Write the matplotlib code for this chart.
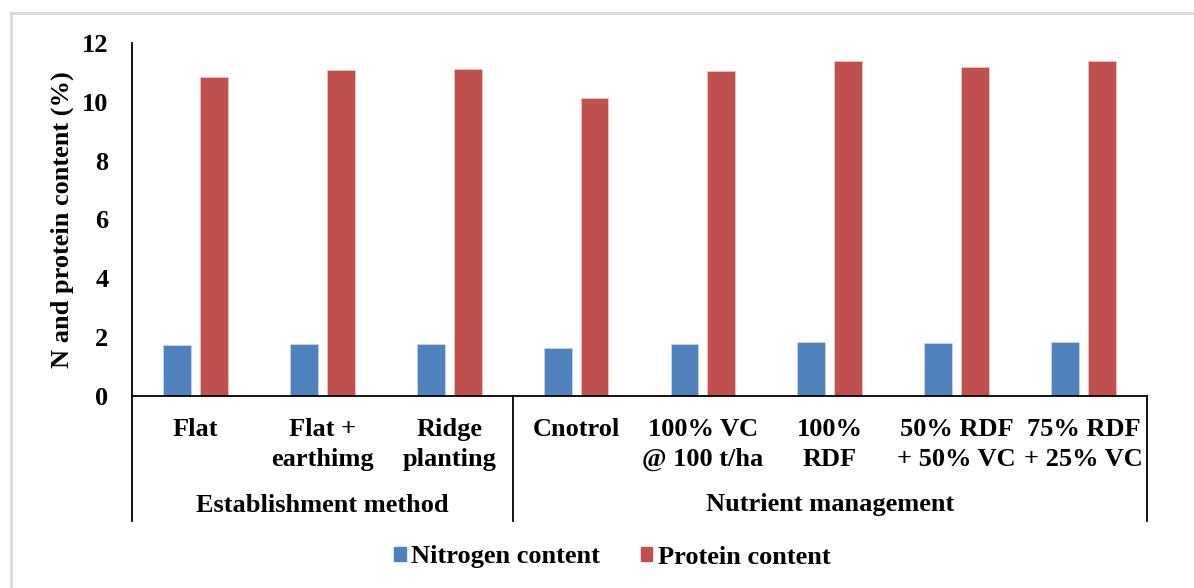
import numpy as np
import matplotlib
matplotlib.use("Agg")
import matplotlib.pyplot as plt
import matplotlib.transforms as mtransforms
from matplotlib.lines import Line2D
from matplotlib.patches import Patch

categories = ["Flat", "Flat +\nearthimg", "Ridge\nplanting",
              "Cnotrol", "100% VC\n@ 100 t/ha", "100%\nRDF",
              "50% RDF\n+ 50% VC", "75% RDF\n+ 25% VC"]
groups = ["Establishment method", "Nutrient management"]
group_sizes = [3, 5]
nitrogen = [1.74, 1.77, 1.78, 1.62, 1.77, 1.82, 1.79, 1.82]
protein = [10.86, 11.07, 11.13, 10.12, 11.04, 11.40, 11.17, 11.40]

plt.rcParams['font.family'] = ['Liberation Serif', 'DejaVu Serif']
plt.rcParams['font.weight'] = 'bold'
fs = 19

W, H = 1194, 588
fig = plt.figure(figsize=(W / 100, H / 100), dpi=100)
ax = fig.add_axes([132 / W, 1 - 396 / H, (1147 - 132) / W, (396 - 43) / H])

x = np.arange(len(categories)) + 0.5
bw = 0.22
ax.bar(x - 0.145, nitrogen, bw, color="#4F81BD", edgecolor="#C6D4EA", linewidth=0.6,
       label="Nitrogen content")
ax.bar(x + 0.145, protein, bw, color="#C0504D", edgecolor="#EBC4C3", linewidth=0.6,
       label="Protein content")

ax.set_xlim(0, len(categories))
ax.set_ylim(0, 12)
ax.set_yticks(np.arange(0, 13, 2))
ax.tick_params(axis="y", length=0, pad=17, labelsize=fs)
ax.set_xticks([])
for s in ["top", "right"]:
    ax.spines[s].set_visible(False)
for s in ["left", "bottom"]:
    ax.spines[s].set_linewidth(1.3)
ax.set_ylabel("N and protein content (%)", fontsize=fs, fontweight="bold")
ax.yaxis.set_label_coords(-0.057, 0.5)

# category and group labels below the axis
trans = mtransforms.blended_transform_factory(ax.transData, ax.transAxes)
def ypx(p):
    return (396 - p) / (396 - 43)

for xi, lab in zip(x, categories):
    ax.text(xi, ypx(418), lab, transform=trans, ha="center", va="top",
            fontsize=fs, linespacing=1.38)

bounds = np.concatenate([[0], np.cumsum(group_sizes)])
for b in bounds:
    ax.plot([b, b], [0, ypx(521)], transform=trans, color="black", lw=1.3,
            clip_on=False)
for g, a, b in zip(groups, bounds[:-1], bounds[1:]):
    ax.text((a + b) / 2, ypx(505), g, transform=trans, ha="center", va="center",
            fontsize=fs)

# light frame around the chart area
fig.add_artist(Line2D([11 / W, 1], [1 - 13 / H, 1 - 13 / H], color="#D9D9D9", lw=2))
fig.add_artist(Line2D([11 / W, 11 / W], [0, 1 - 13 / H], color="#D9D9D9", lw=2))

handles = [Patch(color="#4F81BD"), Patch(color="#C0504D")]
fig.legend(handles, ["Nitrogen content", "Protein content"], loc="center",
           bbox_to_anchor=(612 / W, 1 - 557 / H), ncol=2, frameon=False,
           fontsize=fs, handlelength=0.45, handleheight=0.45, handletextpad=0.2,
           columnspacing=1.55)

fig.savefig("out.png", dpi=100)
